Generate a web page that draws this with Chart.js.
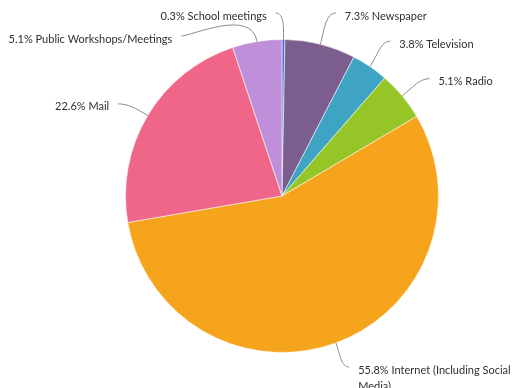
<!DOCTYPE html>
<html lang="en">
<head>
    <meta charset="UTF-8">
    <title>Information Sources</title>
    <script src="https://cdn.jsdelivr.net/npm/chart.js"></script>
    <style>
        body { margin: 0; background: #fff; }
        #wrap { width: 519px; height: 388px; position: relative; }
    </style>
</head>
<body>
    <div id="wrap"><canvas id="sourcesChart"></canvas></div>

    <script>
        const categories = ['School meetings', 'Newspaper', 'Television', 'Radio',
            'Internet (Including Social Media)', 'Mail', 'Public Workshops/Meetings'];
        const shares = [0.3, 7.3, 3.8, 5.1, 55.8, 22.6, 5.1];
        const sliceColors = ['#3C6FD6', '#7B5E8D', '#3FA3C4', '#95C527', '#F5A41C', '#EF6688', '#BF90D9'];

        const FONT = '11px Lato';
        const LINE_H = 16;

        // wrap text into lines that fit maxW
        function wrap(ctx, text, maxW) {
            const words = text.split(' ');
            const lines = [];
            let cur = '';
            words.forEach(w => {
                const test = cur ? cur + ' ' + w : w;
                if (cur && ctx.measureText(test).width > maxW) {
                    lines.push(cur);
                    cur = w;
                } else {
                    cur = test;
                }
            });
            if (cur) lines.push(cur);
            return lines;
        }

        // outside labels with curved connectors
        const outsideLabels = {
            id: 'outsideLabels',
            afterDatasetsDraw(chart) {
                const ctx = chart.ctx;
                const W = chart.width, H = chart.height;
                const arcs = chart.getDatasetMeta(0).data;
                const xDist = 30, yDist = 44, yShift = 14, gap = 23;
                const topLimit = 16, bottomLimit = H - 18;
                ctx.save();
                ctx.font = FONT;

                const items = arcs.map((arc, i) => {
                    const p = arc.getProps(['x', 'y', 'startAngle', 'endAngle', 'outerRadius'], true);
                    const mid = (p.startAngle + p.endAngle) / 2;
                    const cos = Math.cos(mid), sin = Math.sin(mid);
                    const R = p.outerRadius + xDist;
                    return {
                        i, cx: p.x, cy: p.y, R, cos, sin,
                        side: cos > 0.05 ? 1 : -1,
                        ex: p.x + p.outerRadius * cos, ey: p.y + p.outerRadius * sin,
                        ax: p.x + R * cos,
                        ay: p.y + (p.outerRadius + yDist) * sin + yShift,
                        text: shares[i].toFixed(1) + '% ' + categories[i]
                    };
                });

                [1, -1].forEach(side => {
                    const list = items.filter(it => it.side === side).sort((a, b) => a.ay - b.ay);
                    let prev = -Infinity;
                    list.forEach(it => {
                        let y = it.ay;
                        it.mode = 'circle';
                        if (y < topLimit) { y = topLimit; it.mode = 'clamped'; }
                        if (y > bottomLimit) y = bottomLimit;
                        if (y < prev + gap) { y = prev + gap; it.mode = 'pushed'; }
                        it.ly = y;
                        prev = y;
                    });
                });

                items.forEach(it => {
                    const ly = it.ly;
                    let lx;
                    if (it.mode === 'clamped') {
                        lx = it.ax + it.side * 8;
                    } else {
                        const dy = ly - it.cy;
                        lx = it.cx + it.side * Math.sqrt(Math.max(it.R * it.R - dy * dy, 0));
                    }
                    const tx = lx + it.side * 9;
                    const lines = wrap(ctx, it.text, it.side > 0 ? W - tx - 4 : tx - 4);

                    // connector: leaves the slice radially, arrives at the label horizontally
                    const ly0 = ly - 3;
                    const d = Math.hypot(lx - it.ex, ly0 - it.ey);
                    const k1 = d * 0.45, k2 = Math.min(10, d * 0.3);
                    ctx.beginPath();
                    ctx.moveTo(it.ex, it.ey);
                    ctx.bezierCurveTo(it.ex + it.cos * k1, it.ey + it.sin * k1,
                        lx - it.side * k2, ly0, lx, ly0);
                    ctx.strokeStyle = '#8a8a8a';
                    ctx.lineWidth = 1;
                    ctx.stroke();

                    // text
                    ctx.fillStyle = '#2f2f2f';
                    ctx.textBaseline = 'middle';
                    ctx.textAlign = it.side > 0 ? 'left' : 'right';
                    lines.forEach((ln, k) => ctx.fillText(ln, tx, ly + k * LINE_H));
                });
                ctx.restore();
            }
        };

        new Chart(document.getElementById('sourcesChart'), {
            type: 'pie',
            data: {
                labels: categories,
                datasets: [{
                    data: shares,
                    backgroundColor: sliceColors,
                    borderColor: 'rgba(255, 255, 255, 0.55)',
                    borderWidth: 1
                }]
            },
            options: {
                responsive: true,
                maintainAspectRatio: false,
                animation: false,
                layout: { padding: { left: 125, right: 80, top: 39, bottom: 35 } },
                plugins: {
                    legend: { display: false },
                    tooltip: { enabled: false }
                }
            },
            plugins: [outsideLabels]
        });
    </script>
</body>
</html>
